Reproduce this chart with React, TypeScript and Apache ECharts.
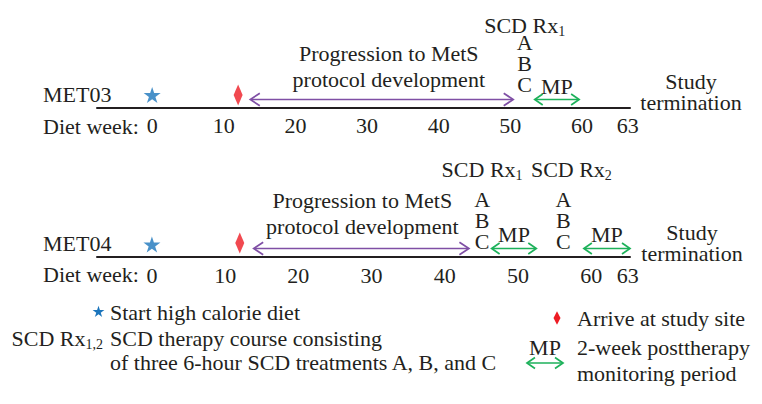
import React, { useEffect, useRef } from 'react';
import * as echarts from 'echarts';

// ---------- data (weeks) ----------
const rowNames = ['MET03', 'MET04'];
const weekTicks = [0, 10, 20, 30, 40, 50, 60];
const studyEndWeek = 63;
const dietStartWeek = 0;
const arrivalWeek = 12;
const met03Progression = [[13.7, 50.4]];
const met04Progression = [[13.9, 43.3]];
const met03Courses = [[52.0, 1]];
const met04Courses = [[45.1, 1], [56.2, 2]];
const met03Monitoring = [[53.4, 59.6]];
const met04Monitoring = [[46.4, 52.5], [59.0, 65.3]];
// drawn extent of each timeline (week scale of the figure)
const met03Extent = [-7.7, 66.7];
const met04Extent = [-7.5, 65.3];

// ---------- styles ----------
const FONT = 'Liberation Serif';
const FS = 22;
const INK = '#231f20';
const BLUE = '#1b75bc';
const RED = '#ed1c24';
const PURPLE = '#7f4fa5';
const GREEN = '#1db15a';
const STAR =
  'path://M10,0L12.245,6.91L19.511,6.91L13.633,11.18L15.878,18.09L10,13.82L4.122,18.09L6.367,11.18L0.489,6.91L7.755,6.91Z';

const subRich = {
  m: { fontFamily: FONT, fontSize: FS, fill: INK, color: INK, lineHeight: 26 },
  s: { fontFamily: FONT, fontSize: 14, fill: INK, color: INK, lineHeight: 13, verticalAlign: 'bottom' },
};

function txt(text: string, x: number, y: number, align = 'left', lineHeight = 24) {
  return {
    type: 'text',
    x,
    y,
    silent: true,
    style: {
      text,
      fontFamily: FONT,
      fontSize: FS,
      fill: INK,
      align,
      verticalAlign: 'middle',
      lineHeight,
    },
  };
}

function arrowChildren(x1: number, x2: number, y: number, color: string, w: number, h: number) {
  const st = { stroke: color, lineWidth: 1.7, fill: null, lineJoin: 'miter' };
  return [
    { type: 'line', shape: { x1: x1 + 0.8, y1: y, x2: x2 - 0.8, y2: y }, style: st },
    { type: 'polyline', shape: { points: [[x1 + w, y - h], [x1, y], [x1 + w, y + h]] }, style: st },
    { type: 'polyline', shape: { points: [[x2 - w, y - h], [x2, y], [x2 - w, y + h]] }, style: st },
  ];
}

function starPoints(cx: number, cy: number, R: number) {
  const pts: number[][] = [];
  const r = R * 0.382;
  for (let i = 0; i < 10; i++) {
    const a = -Math.PI / 2 + (i * Math.PI) / 5;
    const rr = i % 2 === 0 ? R : r;
    pts.push([cx + rr * Math.cos(a), cy + rr * Math.sin(a)]);
  }
  return pts;
}

function rowSeries(
  gi: number,
  progression: number[][],
  courses: number[][],
  monitoring: number[][],
  o: {
    arrowDy: number;
    progDx: number;
    progDy: number;
    mpDy: number;
    abcDy: number;
    scdDy: number;
    scdDx: number[];
    diaDy: number;
  },
) {
  return [
    {
      type: 'scatter',
      name: 'Start high calorie diet',
      xAxisIndex: gi,
      yAxisIndex: gi,
      data: [[dietStartWeek, 0]],
      symbol: STAR,
      symbolKeepAspect: true,
      symbolSize: 17,
      symbolOffset: [0, -12.5],
      itemStyle: { color: BLUE },
      clip: false,
      silent: true,
    },
    {
      type: 'scatter',
      name: 'Arrive at study site',
      xAxisIndex: gi,
      yAxisIndex: gi,
      data: [[arrivalWeek, 0]],
      symbol: 'diamond',
      symbolSize: [9, 21],
      symbolOffset: [0, o.diaDy],
      itemStyle: { color: RED },
      clip: false,
      silent: true,
    },
    {
      type: 'custom',
      name: 'Progression',
      xAxisIndex: gi,
      yAxisIndex: gi,
      clip: false,
      silent: true,
      data: progression,
      renderItem: (params: any, api: any) => {
        const a = api.coord([api.value(0), 0]);
        const b = api.coord([api.value(1), 0]);
        const y = a[1] + o.arrowDy;
        return {
          type: 'group',
          children: [
            ...arrowChildren(a[0], b[0], y, PURPLE, 9.5, 6.3),
            txt('Progression to MetS\nprotocol development', (a[0] + b[0]) / 2 + o.progDx, y + o.progDy, 'center', 26),
          ],
        };
      },
    },
    {
      type: 'custom',
      name: 'Monitoring',
      xAxisIndex: gi,
      yAxisIndex: gi,
      clip: false,
      silent: true,
      data: monitoring,
      renderItem: (params: any, api: any) => {
        const a = api.coord([api.value(0), 0]);
        const b = api.coord([api.value(1), 0]);
        const y = a[1] + o.arrowDy;
        return {
          type: 'group',
          children: [...arrowChildren(a[0], b[0], y, GREEN, 8, 5.5), txt('MP', (a[0] + b[0]) / 2, y + o.mpDy, 'center')],
        };
      },
    },
    {
      type: 'custom',
      name: 'SCD courses',
      xAxisIndex: gi,
      yAxisIndex: gi,
      clip: false,
      silent: true,
      data: courses,
      renderItem: (params: any, api: any) => {
        const p = api.coord([api.value(0), 0]);
        const n = api.value(1);
        return {
          type: 'group',
          children: [
            txt('A\nB\nC', p[0], p[1] + o.abcDy, 'center', 21),
            {
              type: 'text',
              x: p[0] + (o.scdDx[params.dataIndex] || 0),
              y: p[1] + o.scdDy,
              silent: true,
              style: { text: `{m|SCD Rx}{s|${n}}`, rich: subRich, align: 'center', verticalAlign: 'middle' },
            },
          ],
        };
      },
    },
  ];
}

function xAxisFor(gi: number, ext: number[]) {
  const [min, max] = ext;
  const endLabelAt = max - 0.3;
  return {
    type: 'value',
    gridIndex: gi,
    min,
    max,
    axisLine: { show: true, onZero: false, lineStyle: { color: INK, width: 2 } },
    axisTick: { show: false },
    splitLine: { show: false },
    axisLabel: {
      customValues: [...weekTicks, endLabelAt],
      formatter: (v: number) => (v > weekTicks[weekTicks.length - 1] ? String(studyEndWeek) : String(v)),
      fontFamily: FONT,
      fontSize: FS,
      color: INK,
      margin: 7,
      hideOverlap: false,
    },
  };
}

export default function App() {
  const ref = useRef<HTMLDivElement>(null);
  useEffect(() => {
    document.body.style.margin = '0';
    const chart = echarts.init(ref.current!, null, { renderer: 'svg' });
    const option: any = {
      animation: false,
      backgroundColor: '#ffffff',
      textStyle: { fontFamily: FONT },
      grid: [
        { left: 97, width: 533, top: 20, height: 87.5, outerBoundsMode: 'none', containLabel: false },
        { left: 97, width: 533, top: 170, height: 87, outerBoundsMode: 'none', containLabel: false },
      ],
      xAxis: [xAxisFor(0, met03Extent), xAxisFor(1, met04Extent)],
      yAxis: [
        { type: 'value', gridIndex: 0, min: 0, max: 1, show: false },
        { type: 'value', gridIndex: 1, min: 0, max: 1, show: false },
      ],
      series: [
        ...rowSeries(0, met03Progression, met03Courses, met03Monitoring, {
          arrowDy: -8,
          progDx: 7,
          progDy: -33,
          mpDy: -13.5,
          abcDy: -44,
          scdDy: -82.5,
          scdDx: [0],
          diaDy: -12.5,
        }),
        ...rowSeries(1, met04Progression, met04Courses, met04Monitoring, {
          arrowDy: -8.5,
          progDx: 1,
          progDy: -35,
          mpDy: -14.5,
          abcDy: -37,
          scdDy: -88,
          scdDx: [0, 8],
          diaDy: -14,
        }),
      ],
      graphic: [
        txt(rowNames[0], 43, 94.5),
        txt('Diet week:', 43, 126),
        txt('Study\ntermination', 691, 92.4, 'center', 21),
        txt(rowNames[1], 43, 243),
        txt('Diet week:', 43, 274.5),
        txt('Study\ntermination', 692, 243, 'center', 21),
        // legend
        { type: 'polygon', silent: true, shape: { points: starPoints(98.5, 312, 6.2) }, style: { fill: BLUE } },
        txt('Start high calorie diet', 110, 312),
        {
          type: 'text',
          x: 103,
          y: 338,
          silent: true,
          style: { text: '{m|SCD Rx}{s|1,2}', rich: subRich, align: 'right', verticalAlign: 'middle' },
        },
        txt('SCD therapy course consisting\nof three 6-hour SCD treatments A, B, and C', 110, 350, 'left', 24),
        {
          type: 'polygon',
          silent: true,
          shape: { points: [[557, 311.3], [560.5, 318], [557, 324.7], [553.5, 318]] },
          style: { fill: RED },
        },
        txt('Arrive at study site', 577, 318),
        txt('MP', 545, 347, 'center'),
        { type: 'group', silent: true, children: arrowChildren(527, 563, 363, GREEN, 8, 5.5) },
        txt('2-week posttherapy\nmonitoring period', 577, 360, 'left', 26),
      ],
    };
    chart.setOption(option);
    return () => chart.dispose();
  }, []);
  return <div ref={ref} style={{ width: 762, height: 404 }} />;
}
